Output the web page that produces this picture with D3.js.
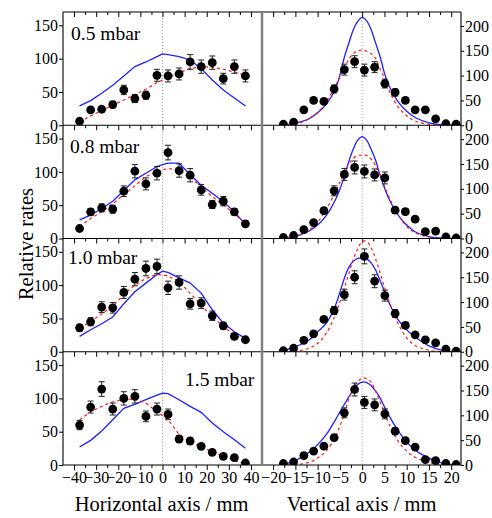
<!DOCTYPE html>
<html><head><meta charset="utf-8">
<script src="https://cdn.jsdelivr.net/npm/d3@7"></script>
<style>
body{margin:0;background:#fff}
svg{display:block}
text{font-family:"Liberation Serif","Times New Roman",serif;fill:#000}
</style>
</head><body>
<svg id="c" width="492" height="518"></svg>
<script>
// ---------- data ----------
const pressures = ["0.5 mbar", "0.8 mbar", "1.0 mbar", "1.5 mbar"];

// Horizontal profiles (left column)
const hPos = [-37.5,-32.5,-27.5,-22.5,-17.5,-12.5,-7.5,-2.5,2.5,7.5,12.5,17.5,22.5,27.5,32.5,37.5];
const hRate05 = [6,23,24,31,53,40,45,75,74,77,95,88,94,70,88,74];
const hErr05  = [2,4,4,5,7,6,6,9,9,9,11,10,10,8,10,9];
const hRate08 = [15,40,46,44,71,101,82,98,129,102,95,73,51,56,40,22];
const hErr08  = [3,5,6,6,8,10,9,10,11,10,10,8,6,7,5,4];
const hRate10 = [36,45,67,66,89,109,125,128,96,104,72,73,54,39,23,18];
const hErr10  = [5,6,8,8,9,10,11,11,10,10,8,8,7,5,4,3];
const hRate15 = [60,87,114,84,100,103,73,84,76,39,36,28,19,13,11,3];
const hErr15  = [7,9,11,9,10,10,8,9,8,5,5,4,3,3,2,1];
// red dashed fits (at hPos)
const hFit05 = [5,14,22,30,38,46,54,64,72,79,85,88,87,84,80,75];
const hFit08 = [18,30,40,52,66,79,93,101,105,103,93,77,63,50,37,22];
const hFit10 = [36,45,57,68,86,100,110,116,114,105,88,70,52,38,25,18];
const hFit15 = [68,80,88,95,98,99,93,80,68,46,35,27,20,13,7,1];
// blue model curves
const hModelPos = [-37.5,-32.5,-27.5,-22.5,-17.5,-12.5,-7.5,-2.5,0,2.5,7.5,12.5,17.5,22.5,27.5,32.5,37.5];
const hModel05 = [29,37,48,60,74,88,95,103,107,106,103,98,85,68,53,41,29];
const hModel08 = [28,35,45,56,72,88,98,108,111,113,113,96,80,68,55,40,21];
const hModel10 = [23,33,42,52,72,90,103,116,121,119,111,103,88,63,43,30,20];
const hModel15 = [27,37,51,68,85,91,98,105,108,107,98,88,79,63,50,38,25];

// Vertical profiles (right column)
const vPos = [-17.7,-15.4,-13.1,-10.9,-8.6,-6.3,-4.0,-1.7,0.5,2.8,5.1,7.4,9.7,11.9,14.2,16.5,18.8,21.1];
const vRate05 = [2,6,31,50,48,73,112,128,111,117,84,66,50,31,31,13,3,2];
const vErr05  = [1,1,4,5,5,8,11,12,12,11,9,7,5,4,4,2,1,1];
const vRate08 = [2,6,18,32,56,96,129,143,135,128,122,57,54,39,14,15,3,1];
const vErr08  = [1,1,2,4,6,10,12,13,13,12,12,6,6,4,2,2,1,1];
const vRate10 = [2,7,23,36,65,83,115,150,192,142,113,77,53,34,24,18,5,1];
const vErr10  = [1,1,3,4,6,8,11,13,15,13,11,8,6,4,3,2,1,1];
const vRate15 = [3,6,19,28,38,55,105,152,126,121,103,68,49,36,11,9,3,1];
const vErr15  = [1,1,2,3,4,6,10,13,12,12,10,7,5,4,2,2,1,1];
const vCurvePos = [-18,-15,-12,-10,-8,-6,-5,-4,-3,-2,-1,0,1,2,3,4,5,6,8,10,12,15,18,21];
const vModel05 = [1,4.5,13,25,43,73,101,137,165,192,209,217,210,193,166,139,105,80,48,28,15,5,1,0];
const vFit05   = [0,2,13,26,48,80,97,115,133,144,150,151,149,144,135,114,95,71,38,19,8,2,0,0];
const vModel08 = [1,5,15,27,47,78,99,125,155,180,198,205,198,180,158,128,102,80,48,27,13,4,1,0];
const vFit08   = [0,4,16,33,60,94,113,133,150,161,167,168,167,160,147,128,106,84,49,24,11,3,0,0];
const vModel10 = [2,10,23,40,58,93,120,148,170,182,188,189,187,179,165,144,122,99,65,44,29,12,3,0];
const vFit10   = [0,1,7,17,38,75,100,128,157,186,207,222,222,210,187,160,130,103,58,28,12,3,0,0];
const vModel15 = [1,9,25,41,62,91,107,122,137,151,162,167,166,160,149,135,117,100,70,46,29,14,4,0];
const vFit15   = [0,1,5,14,29,57,78,103,133,154,168,175,174,167,149,128,105,83,49,28,15,5,1,0];

// axis ticks
const hTickLabels = [-40,-30,-20,-10,0,10,20,30,40];
const hMinorTicks = [-35,-25,-15,-5,5,15,25,35];
const vTickLabels = [-20,-15,-10,-5,0,5,10,15,20];
const vMinorTicks = [-17.5,-12.5,-7.5,-2.5,2.5,7.5,12.5,17.5];
const leftYTicks = [0,50,100,150];
const rightYTicks = [0,50,100,150,200];

const rows = [
  {label: pressures[0], h: hRate05, he: hErr05, hf: hFit05, hm: hModel05, v: vRate05, ve: vErr05, vf: vFit05, vm: vModel05},
  {label: pressures[1], h: hRate08, he: hErr08, hf: hFit08, hm: hModel08, v: vRate08, ve: vErr08, vf: vFit08, vm: vModel08},
  {label: pressures[2], h: hRate10, he: hErr10, hf: hFit10, hm: hModel10, v: vRate10, ve: vErr10, vf: vFit10, vm: vModel10},
  {label: pressures[3], h: hRate15, he: hErr15, hf: hFit15, hm: hModel15, v: vRate15, ve: vErr15, vf: vFit15, vm: vModel15}
];
const labelPos = [[71,28],[70,28],[68,25.5],[185,34]];

// ---------- layout ----------
const xL0 = 63, xMid = 262, xR1 = 461, yTop = 12, rowH = 113.25;
const FONT = '"Liberation Serif","Times New Roman",serif';
const BLUE = "#1f1fff", RED = "#ff1a1a";
const svg = d3.select("#c");
const xH = d3.scaleLinear().domain([-45, 45]).range([xL0, xMid]);
const xV = d3.scaleLinear().domain([-22.5, 22.2]).range([xMid, xR1]);

function styleAxis(g){
  g.attr("font-family", FONT).attr("font-size", 16);
  g.select(".domain").remove();
  g.selectAll(".tick line").attr("stroke", "#000").attr("stroke-width", 1);
  g.selectAll(".tick text").attr("fill", "#000");
}

function xTicks(y, showLabels){
  svg.append("g").attr("transform", `translate(0,${y})`)
    .call(d3.axisBottom(xH).tickValues(hTickLabels).tickSize(5).tickPadding(2)
      .tickFormat(showLabels ? d3.format("d") : ""))
    .call(styleAxis);
  svg.append("g").attr("transform", `translate(0,${y})`)
    .call(d3.axisBottom(xH).tickValues(hMinorTicks).tickSize(3).tickFormat(""))
    .call(styleAxis);
  svg.append("g").attr("transform", `translate(0,${y})`)
    .call(d3.axisBottom(xV).tickValues(vTickLabels).tickSize(5).tickPadding(2)
      .tickFormat(showLabels ? d3.format("d") : ""))
    .call(styleAxis);
  svg.append("g").attr("transform", `translate(0,${y})`)
    .call(d3.axisBottom(xV).tickValues(vMinorTicks).tickSize(3).tickFormat(""))
    .call(styleAxis);
}

const defs = svg.append("defs");

rows.forEach((row, i) => {
  const y0 = yTop + i * rowH, y1 = y0 + rowH;
  const yH = d3.scaleLinear().domain([0, 170]).range([y1, y0]);
  const yV = d3.scaleLinear().domain([0, 228]).range([y1, y0]);

  defs.append("clipPath").attr("id", "cl" + i).append("rect")
    .attr("x", xL0).attr("y", y0).attr("width", xMid - xL0).attr("height", rowH);
  defs.append("clipPath").attr("id", "cr" + i).append("rect")
    .attr("x", xMid).attr("y", y0).attr("width", xR1 - xMid).attr("height", rowH);

  [xH(0), xV(0)].forEach(x => {
    svg.append("line").attr("x1", x).attr("x2", x).attr("y1", y0).attr("y2", y1)
      .attr("stroke", "#9a9a9a").attr("stroke-width", 1).attr("stroke-dasharray", "1,2");
  });

  // ----- left panel -----
  const gl = svg.append("g").attr("clip-path", `url(#cl${i})`);
  const lineL = d3.line().x(d => xH(d[0])).y(d => yH(d[1]));
  gl.append("path").datum(hModelPos.map((x, k) => [x, row.hm[k]]))
    .attr("d", lineL).attr("fill", "none").attr("stroke", BLUE).attr("stroke-width", 1.3);
  gl.append("path").datum(hPos.map((x, k) => [x, row.hf[k]]))
    .attr("d", lineL).attr("fill", "none").attr("stroke", RED).attr("stroke-width", 1.2)
    .attr("stroke-dasharray", "3,3");
  const ptsL = hPos.map((x, k) => ({x, v: row.h[k], e: row.he[k]}));
  const eb = gl.append("g").attr("stroke", "#222").attr("stroke-width", 1);
  ptsL.forEach(p => {
    const cx = xH(p.x);
    eb.append("line").attr("x1", cx).attr("x2", cx).attr("y1", yH(p.v - p.e)).attr("y2", yH(p.v + p.e));
    [p.v - p.e, p.v + p.e].forEach(v => eb.append("line").attr("x1", cx - 3).attr("x2", cx + 3).attr("y1", yH(v)).attr("y2", yH(v)));
  });
  gl.selectAll("circle").data(ptsL).join("circle")
    .attr("cx", d => xH(d.x)).attr("cy", d => yH(d.v)).attr("r", 4.4).attr("fill", "#000");

  // ----- right panel -----
  const gr = svg.append("g").attr("clip-path", `url(#cr${i})`);
  const lineR = d3.line().x(d => xV(d[0])).y(d => yV(d[1])).curve(d3.curveCatmullRom.alpha(0.5));
  gr.append("path").datum(vCurvePos.map((x, k) => [x, row.vm[k]]))
    .attr("d", lineR).attr("fill", "none").attr("stroke", BLUE).attr("stroke-width", 1.3);
  gr.append("path").datum(vCurvePos.map((x, k) => [x, row.vf[k]]))
    .attr("d", lineR).attr("fill", "none").attr("stroke", RED).attr("stroke-width", 1.2)
    .attr("stroke-dasharray", "3,3");
  const ptsR = vPos.map((x, k) => ({x, v: row.v[k], e: row.ve[k]}));
  const ebr = gr.append("g").attr("stroke", "#222").attr("stroke-width", 1);
  ptsR.forEach(p => {
    const cx = xV(p.x);
    ebr.append("line").attr("x1", cx).attr("x2", cx).attr("y1", yV(p.v - p.e)).attr("y2", yV(p.v + p.e));
    [p.v - p.e, p.v + p.e].forEach(v => ebr.append("line").attr("x1", cx - 3).attr("x2", cx + 3).attr("y1", yV(v)).attr("y2", yV(v)));
  });
  gr.selectAll("circle").data(ptsR).join("circle")
    .attr("cx", d => xV(d.x)).attr("cy", d => yV(d.v)).attr("r", 4.4).attr("fill", "#000");

  svg.append("g").attr("transform", `translate(${xL0},0)`)
    .call(d3.axisLeft(yH).tickValues(leftYTicks).tickSize(4).tickPadding(1).tickFormat(d3.format("d")))
    .call(styleAxis);
  svg.append("g").attr("transform", `translate(${xR1},0)`)
    .call(d3.axisRight(yV).tickValues(rightYTicks).tickSize(3).tickPadding(1).tickFormat(d3.format("d")))
    .call(styleAxis);

  svg.append("text").attr("x", labelPos[i][0]).attr("y", y0 + labelPos[i][1])
    .attr("font-size", 19.5).text(row.label);

  xTicks(y1, i === 3);
});
xTicks(yTop, false);

// frame
const yBottom = yTop + 4 * rowH;
for (let i = 0; i <= 4; i++) {
  const y = yTop + i * rowH;
  svg.append("line").attr("x1", xL0).attr("x2", xR1).attr("y1", y).attr("y2", y)
    .attr("stroke", "#000").attr("stroke-width", 1.1);
}
svg.append("line").attr("x1", xL0).attr("x2", xL0).attr("y1", yTop).attr("y2", yBottom)
  .attr("stroke", "#000").attr("stroke-width", 1.1);
svg.append("line").attr("x1", xR1).attr("x2", xR1).attr("y1", yTop).attr("y2", yBottom)
  .attr("stroke", "#000").attr("stroke-width", 1.1);
svg.append("line").attr("x1", xMid).attr("x2", xMid).attr("y1", yTop).attr("y2", yBottom)
  .attr("stroke", "#808080").attr("stroke-width", 2.5);

svg.append("text").attr("x", 161.5).attr("y", 511).attr("text-anchor", "middle")
  .attr("font-size", 20.5).text("Horizontal axis / mm");
svg.append("text").attr("x", 361.5).attr("y", 511).attr("text-anchor", "middle")
  .attr("font-size", 20.5).text("Vertical axis / mm");
svg.append("text").attr("transform", "translate(33,244) rotate(-90)").attr("text-anchor", "middle")
  .attr("font-size", 20.5).text("Relative rates");
</script>
</body></html>
